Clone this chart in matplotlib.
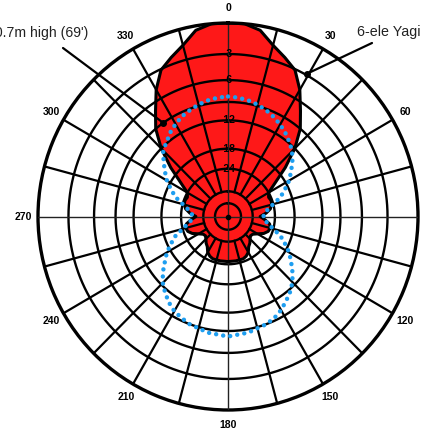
import numpy as np
import matplotlib
matplotlib.use("Agg")
import matplotlib.pyplot as plt

# ---------------------------------------------
# data: azimuth pattern, dB relative to peak
# ---------------------------------------------
angles = [0, 5, 10, 15, 20, 25, 30, 35, 40, 45, 50, 55, 60, 65, 70, 75, 80, 85,
          90, 95, 100, 105, 110, 115, 120, 125, 130, 135, 140, 145, 150, 155,
          160, 170, 180, 190, 200, 205, 210, 215, 220, 225, 230, 235, 240, 245,
          250, 255, 260, 265, 270, 275, 280, 285, 290, 295, 300, 305, 310, 315,
          320, 325, 330, 335, 340, 345, 350, 355, 360]

yagi_db = [0, 0, -0.4, -1.5, -2.3, -3.1, -4.8, -7.0, -9.0, -12.0, -16.0, -20.5,
           -24.0, -24.8, -24.4, -24.6, -25.5, -27.5, -30.5, -28.0, -25.8, -25.2,
           -25.6, -27.0, -29.5, -31.5, -32.0, -31.0, -29.5, -28.5, -26.5, -25.5,
           -25.0, -25.0, -25.0, -25.0, -25.0, -25.5, -26.5, -28.5, -29.5, -31.0,
           -32.0, -31.5, -29.5, -27.0, -25.6, -25.2, -25.8, -28.0, -30.5, -27.5,
           -25.5, -24.6, -24.4, -24.8, -24.0, -20.5, -16.0, -12.0, -9.0, -7.0,
           -4.8, -3.1, -2.3, -1.5, -0.4, 0, 0]

dipole_db = [-8.2, -8.3, -8.5, -8.8, -9.2, -9.7, -10.3, -11.0, -11.8, -12.7,
             -14.0, -15.5, -17.0, -19.0, -21.0, -24.0, -26.5, -28.3, -28.8,
             -28.3, -26.5, -24.0, -21.0, -19.0, -17.0, -15.5, -14.0, -12.6,
             -11.6, -10.8, -10.0, -9.4, -9.0, -8.5, -8.2, -8.5, -9.0, -9.4,
             -9.8, -10.5, -11.4, -12.4, -13.8, -15.5, -17.0, -19.0, -21.0,
             -24.0, -26.5, -28.3, -28.8, -28.3, -26.5, -24.0, -21.0, -19.0,
             -17.0, -15.5, -14.0, -12.5, -11.8, -10.9, -10.2, -9.6, -9.2,
             -8.8, -8.5, -8.3, -8.2]

ring_db = [0, -3, -6, -9, -12, -18, -24, -35, -46]
ring_labels = {-3: "-3", -6: "-6", -12: "-12", -18: "-18", -24: "-24"}
compass = [0, 30, 60, 90, 120, 150, 180, 210, 240, 270, 300, 330]


def arrl(db):
    # ARRL log-periodic scale: 0.89 per 2 dB
    return 0.89 ** (-np.asarray(db, dtype=float) / 2.0)


fig = plt.figure(figsize=(4.21, 4.28), dpi=100)
ax = fig.add_axes([38 / 421, 18 / 428, 380 / 421, 387 / 428], projection="polar")
ax.set_aspect("auto")
ax.set_theta_zero_location("N")
ax.set_theta_direction(-1)
ax.set_ylim(0, 1)
ax.grid(False)
ax.set_xticks([])
ax.set_yticks([])
ax.spines["polar"].set_linewidth(2.4)
ax.spines["polar"].set_color("black")

th = np.radians(angles)

# red yagi pattern
ax.fill(th, arrl(yagi_db), color="#fe1818", zorder=2)
ax.plot(th, arrl(yagi_db), color="black", lw=2.2, zorder=4)

# grid on top of the fill
circ = np.linspace(0, 2 * np.pi, 361)
for d in ring_db[1:]:
    ax.plot(circ, np.full_like(circ, arrl(d)), color="black", lw=1.7, zorder=3)
for a in range(0, 360, 15):
    if a % 90 == 0:
        ax.plot([np.radians(a)] * 2, [0, 1], color="#222222", lw=1.0, zorder=3)
    else:
        ax.plot([np.radians(a)] * 2, [arrl(-35), 1], color="black", lw=1.6, zorder=3)
ax.plot([0], [0], "o", color="black", ms=3, zorder=5)

# ring labels on the 0 deg axis
for d, s in ring_labels.items():
    ax.text(0, arrl(d), s, ha="center", va="center", fontsize=7.5,
            fontweight="bold", family="Liberation Sans", zorder=6)

# compass labels
for a in compass:
    ax.text(np.radians(a), 1.075, str(a), ha="center", va="center",
            fontsize=7.5, fontweight="bold", family="Liberation Sans",
            clip_on=False)

# blue dotted dipole
ax.plot(th, arrl(dipole_db), color="#1e9ef0", lw=3.2,
        ls=(0, (0.01, 1.6)), dash_capstyle="round", zorder=7)

# pointers and labels
fig.text(357 / 421, 1 - 32 / 428, "6-ele Yagi", ha="left", va="center",
         fontsize=10.3, family="Liberation Sans", color="#222222")
fig.text(88 / 421, 1 - 33 / 428, "20.7m high (69')", ha="right", va="center",
         fontsize=10.1, family="Liberation Sans", color="#222222")

ax.annotate("", xy=(np.radians(29.4), 0.847), xytext=(372 / 421, 1 - 43 / 428),
            textcoords="figure fraction",
            arrowprops=dict(arrowstyle="-", lw=1.6, color="black",
                            shrinkA=0, shrinkB=0), zorder=8)
ax.annotate("", xy=(np.radians(324.8), 0.593), xytext=(63 / 421, 1 - 48 / 428),
            textcoords="figure fraction",
            arrowprops=dict(arrowstyle="-", lw=1.6, color="black",
                            shrinkA=0, shrinkB=0), zorder=8)
ax.plot([np.radians(29.4), np.radians(324.8)], [0.847, 0.593], "o",
        color="black", ms=4, ls="none", zorder=8)

fig.savefig("out.png", dpi=100)
